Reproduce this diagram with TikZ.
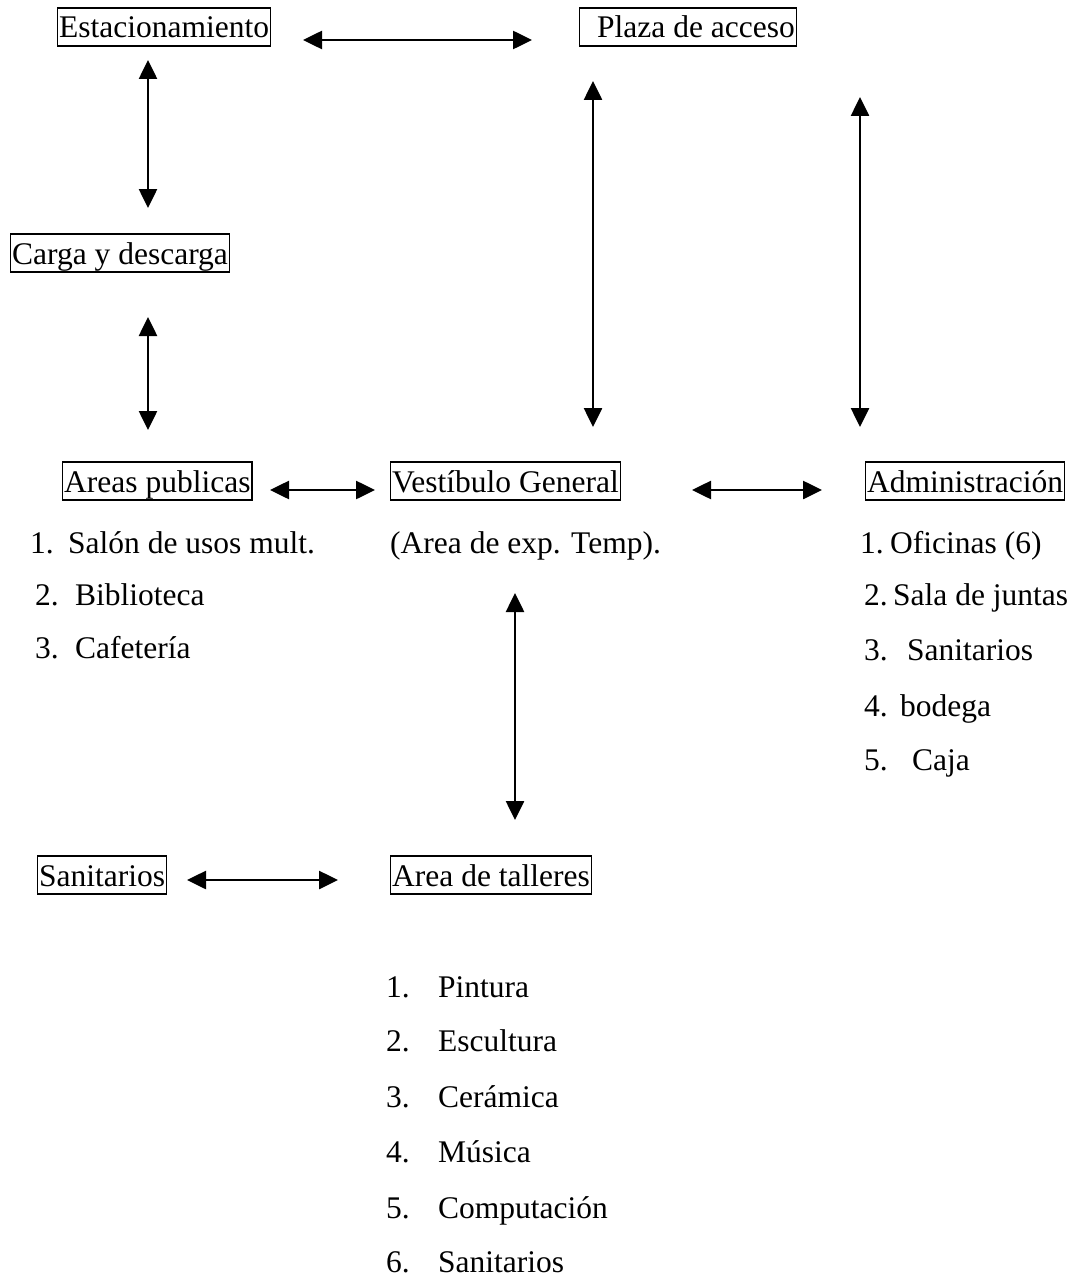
\documentclass[tikz,border=0pt]{standalone}
\usepackage{fontspec}
\setmainfont{Liberation Serif}
\usetikzlibrary{arrows.meta}
\tikzset{
  box/.style={draw, line width=1.4pt, anchor=base west, inner xsep=1.5pt, inner ysep=4pt, text height=26pt, text depth=4pt},
  item/.style={anchor=base west, inner sep=0pt},
  arr/.style={line width=2.6pt, {Triangle[length=19pt,width=18pt]}-{Triangle[length=19pt,width=18pt]}}
}
\newcommand{\num}[2]{\makebox[#1][l]{#2}}
\begin{document}
\begin{tikzpicture}[x=1pt,y=-1pt,font=\fontsize{31.5}{36}\selectfont]
\useasboundingbox[fill=white] (0,0) rectangle (1079,1279);
% boxed nodes
\node[box] (est) at (57,38) {Estacionamiento};
\node[box] (plaza) at (579,38) {\hspace*{16pt}Plaza de acceso};
\node[box] (carga) at (10,264) {Carga y descarga};
\node[box] (areas) at (62,492) {Areas publicas};
\node[box] (vest) at (390,492) {Vestíbulo General};
\node[box] (admin) at (865,492) {Administración};
\node[box] (sanit) at (37,886) {Sanitarios};
\node[box] (talleres) at (390,886) {Area de talleres};
% lists
\node[item] (a1) at (30,553) {\num{38pt}{1.}Salón de usos mult.};
\node[item] (a2) at (35,605) {\num{40pt}{2.}Biblioteca};
\node[item] (a3) at (35,658) {\num{40pt}{3.}Cafetería};
\node[item] (vt) at (390,553) {(Area de exp. Temp).};
\node[item] (d1) at (860,553) {\num{30pt}{1.}Oficinas (6)};
\node[item] (d2) at (864,605) {\num{29pt}{2.}Sala de juntas};
\node[item] (d3) at (864,660) {\num{43pt}{3.}Sanitarios};
\node[item] (d4) at (864,716) {\num{36pt}{4.}bodega};
\node[item] (d5) at (864,770) {\num{48pt}{5.}Caja};
\node[item] (t1) at (386,997) {\num{52pt}{1.}Pintura};
\node[item] (t2) at (386,1051) {\num{52pt}{2.}Escultura};
\node[item] (t3) at (386,1107) {\num{52pt}{3.}Cerámica};
\node[item] (t4) at (386,1162) {\num{52pt}{4.}Música};
\node[item] (t5) at (386,1218) {\num{52pt}{5.}Computación};
\node[item] (t6) at (386,1272) {\num{52pt}{6.}Sanitarios};
% arrow end points
\coordinate (h1a) at (303,40); \coordinate (h1b) at (532,40);
\coordinate (v1a) at (148,60); \coordinate (v1b) at (148,208);
\coordinate (v2a) at (148,317); \coordinate (v2b) at (148,430);
\coordinate (v3a) at (593,81); \coordinate (v3b) at (593,427);
\coordinate (v4a) at (860,97); \coordinate (v4b) at (860,427);
\coordinate (h2a) at (270,490); \coordinate (h2b) at (375,490);
\coordinate (h3a) at (692,490); \coordinate (h3b) at (822,490);
\coordinate (v5a) at (515,593); \coordinate (v5b) at (515,820);
\coordinate (h4a) at (187,880); \coordinate (h4b) at (338,880);
% connectors
\draw[arr] (h1a) -- (h1b);
\draw[arr] (v1a) -- (v1b);
\draw[arr] (v2a) -- (v2b);
\draw[arr] (v3a) -- (v3b);
\draw[arr] (v4a) -- (v4b);
\draw[arr] (h2a) -- (h2b);
\draw[arr] (h3a) -- (h3b);
\draw[arr] (v5a) -- (v5b);
\draw[arr] (h4a) -- (h4b);
\end{tikzpicture}
\end{document}
